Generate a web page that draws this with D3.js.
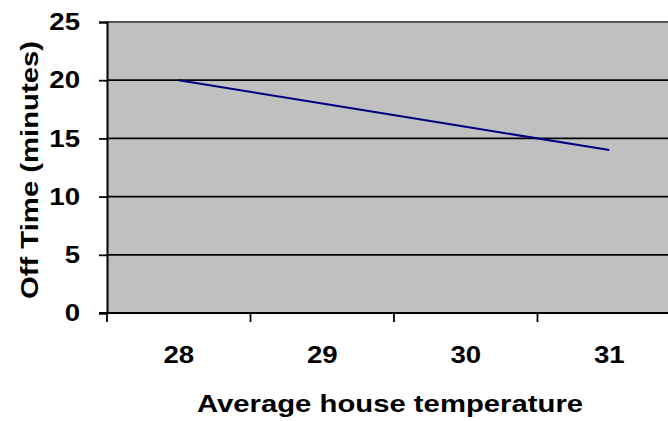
<!DOCTYPE html>
<html>
<head>
<meta charset="utf-8">
<script src="https://cdn.jsdelivr.net/npm/d3@7"></script>
<style>
  body { margin: 0; background: #fff; }
  text { font-family: "Liberation Sans", Arial, sans-serif; font-weight: bold; fill: #000; }
</style>
</head>
<body>
<div id="chart"></div>
<script>
// Data
const temperatures = ["28", "29", "30", "31"];
const offTimes = [20, 18, 16, 14];
const yTicks = [0, 5, 10, 15, 20, 25];

const width = 668;
const height = 421;
const plot = { left: 107, top: 22, bottom: 313, step: 143.5 };

// Scales
const xScale = d3.scaleBand()
    .domain(temperatures)
    .range([plot.left, plot.left + plot.step * temperatures.length]);

const yScale = d3.scaleLinear()
    .domain([0, 25])
    .range([plot.bottom, plot.top]);

const svg = d3.select("#chart")
    .append("svg")
    .attr("width", width)
    .attr("height", height);

// Plot area background
svg.append("rect")
    .attr("x", plot.left)
    .attr("y", plot.top)
    .attr("width", xScale.range()[1] - plot.left)
    .attr("height", plot.bottom - plot.top)
    .attr("fill", "#c0c0c0");

// Gridlines
svg.append("g")
    .selectAll("line")
    .data(yTicks.filter(d => d > 0))
    .join("line")
    .attr("x1", plot.left)
    .attr("x2", xScale.range()[1])
    .attr("y1", d => yScale(d))
    .attr("y2", d => yScale(d))
    .attr("stroke", d => d === 25 ? "#555" : "#000")
    .attr("stroke-width", 1.8);

// Y axis (ticks from d3, labels drawn separately)
const yAxis = svg.append("g")
    .attr("transform", `translate(${plot.left},0)`)
    .call(d3.axisLeft(yScale).tickValues(yTicks).tickSize(8).tickFormat(""));
yAxis.select(".domain").attr("stroke", "#000").attr("stroke-width", 2);
yAxis.selectAll(".tick line").attr("stroke", "#000").attr("stroke-width", 1.8);

svg.append("g")
    .selectAll("text")
    .data(yTicks)
    .join("text")
    .attr("text-anchor", "end")
    .attr("dy", "0.36em")
    .attr("transform", d => `translate(80,${yScale(d)}) scale(1.2,1)`)
    .style("font-size", "23px")
    .text(d => d);

// X axis (category, ticks between categories)
const xAxis = svg.append("g")
    .attr("transform", `translate(0,${plot.bottom})`);
xAxis.append("line")
    .attr("x1", plot.left - 8)
    .attr("x2", xScale.range()[1])
    .attr("stroke", "#000")
    .attr("stroke-width", 2);
xAxis.selectAll(".xtick")
    .data(temperatures)
    .join("line")
    .attr("class", "xtick")
    .attr("x1", d => xScale(d))
    .attr("x2", d => xScale(d))
    .attr("y1", 0)
    .attr("y2", 9)
    .attr("stroke", "#000")
    .attr("stroke-width", 1.8);
xAxis.selectAll(".xlabel")
    .data(temperatures)
    .join("text")
    .attr("class", "xlabel")
    .attr("text-anchor", "middle")
    .attr("transform", d => `translate(${xScale(d) + xScale.bandwidth() / 2},50) scale(1.2,1)`)
    .style("font-size", "23px")
    .text(d => d);

// Line
const line = d3.line()
    .x((d, i) => xScale(temperatures[i]) + xScale.bandwidth() / 2)
    .y(d => yScale(d));

svg.append("path")
    .datum(offTimes)
    .attr("fill", "none")
    .attr("stroke", "#000080")
    .attr("stroke-width", 2)
    .attr("d", line);

// Axis titles
svg.append("text")
    .attr("text-anchor", "middle")
    .attr("transform", "translate(390,412) scale(1.22,1)")
    .style("font-size", "24px")
    .text("Average house temperature");

svg.append("text")
    .attr("text-anchor", "middle")
    .attr("transform", "translate(38,170) rotate(-90) scale(1.22,1)")
    .style("font-size", "24px")
    .text("Off Time (minutes)");
</script>
</body>
</html>
